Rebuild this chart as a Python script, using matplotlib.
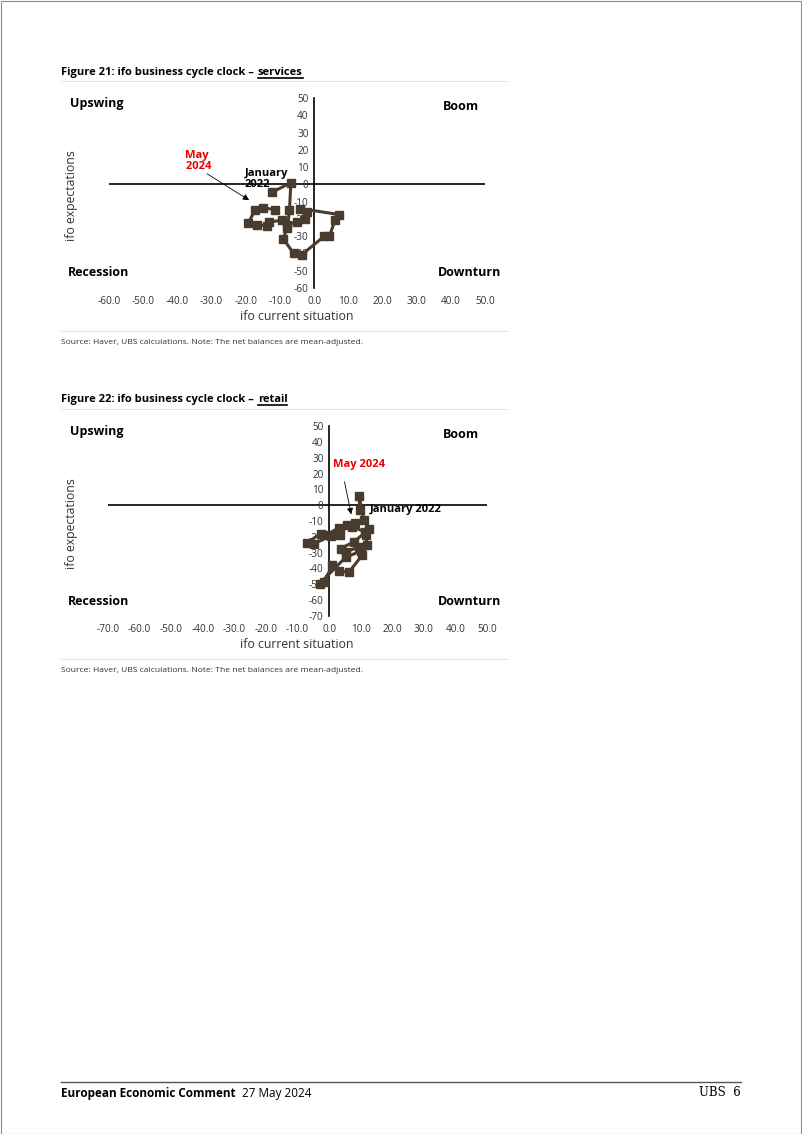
import matplotlib
matplotlib.use('Agg')
import matplotlib.pyplot as plt
from matplotlib.lines import Line2D
from matplotlib.patches import Rectangle

W, H = 802, 1134
BROWN = '#4a3b2f'
RED = '#e60000'
GREY = '#333333'
RULE = '#e3e3e3'

# ifo services: current situation (x) vs expectations (y), Jan 2022 -> May 2024
services_x = [-12.2, -6.8, -7.2, -7.8, -9.0, -6.0, -3.6, 3.0, 4.5, 6.1, 7.4, -4.1, -2.1,
              -2.6, -5.0, -8.0, -9.5, -13.1, -13.8, -16.8, -19.2, -17.3, -15.0, -11.4]
services_y = [-4.5, 1.0, -15.0, -25.0, -31.5, -40.0, -40.7, -30.0, -30.0, -20.8, -17.5, -14.0, -16.0,
              -19.9, -21.5, -23.7, -20.8, -21.8, -24.1, -23.4, -22.2, -15.0, -13.5, -14.7]

# ifo retail
retail_x = [9.7, 9.5, 11.0, 12.6, 11.6, 12.1, 10.5, 6.3, 3.1, 1.0, -1.6, -3.0, 5.2, 10.0, 9.5,
            5.2, 3.7, 8.0, 11.5, 7.4, 3.1, -1.1, -2.7, -6.9, -4.8, 0.5, 3.5, 5.8, 8.1]
retail_y = [-3.2, 5.9, -9.5, -14.8, -19.0, -25.3, -31.6, -42.2, -41.8, -38.0, -48.5, -49.6, -33.0, -29.0, -26.4,
            -29.5, -27.4, -23.0, -17.0, -13.7, -14.3, -19.0, -18.0, -23.6, -24.3, -19.5, -19.0, -12.7, -11.0]

services_xticks = [-60, -50, -40, -30, -20, -10, 0, 10, 20, 30, 40, 50]
services_yticks = [50, 40, 30, 20, 10, 0, -10, -20, -30, -40, -50, -60]
retail_xticks = [-70, -60, -50, -40, -30, -20, -10, 0, 10, 20, 30, 40, 50]
retail_yticks = [50, 40, 30, 20, 10, 0, -10, -20, -30, -40, -50, -60, -70]

plt.rcParams['font.family'] = ['Open Sans', 'DejaVu Sans']

fig = plt.figure(figsize=(W / 100, H / 100), dpi=100)
renderer = fig.canvas.get_renderer()


def fx(px):
    return px / W


def fy(py):
    return 1 - py / H


def hline(y, x0, x1, color, lw):
    fig.add_artist(Line2D([fx(x0), fx(x1)], [fy(y), fy(y)], color=color, lw=lw))


def title(y, lead, word):
    # y is the text baseline in pixels from the top
    t = fig.text(fx(61), fy(y), lead, fontsize=8.0, fontweight='bold', va='baseline')
    bb = t.get_window_extent(renderer)
    t2 = fig.text((bb.x1 + 4) / W, fy(y), word, fontsize=8.0, fontweight='bold', va='baseline')
    bb2 = t2.get_window_extent(renderer)
    fig.add_artist(Line2D([bb2.x0 / W, bb2.x1 / W], [fy(y + 3)] * 2, color='black', lw=1.2))


def panel(top, bottom, left, right, xs, ys, xticks, yticks):
    ax = fig.add_axes([fx(left), fy(bottom), fx(right) - fx(left), fy(top) - fy(bottom)])
    ax.patch.set_alpha(0)
    ax.set_xlim(xticks[0], xticks[-1])
    ax.set_ylim(yticks[-1], yticks[0])
    ax.axhline(0, color='black', lw=1.2, zorder=1)
    ax.plot(xs, ys, color=BROWN, lw=2.2, marker='s', ms=5.8, mfc=BROWN, mec=BROWN, zorder=3)
    ax.spines['left'].set_position(('data', 0))
    ax.spines['left'].set_linewidth(1.2)
    for s in ['top', 'right', 'bottom']:
        ax.spines[s].set_visible(False)
    ax.set_xticks(xticks)
    ax.set_xticklabels([f'{v:.1f}' for v in xticks])
    ax.set_yticks(yticks)
    ax.set_yticklabels([str(v) for v in yticks])
    ax.tick_params(axis='both', length=0, labelsize=7.2, labelcolor=GREY)
    ax.tick_params(axis='x', pad=6)
    ax.tick_params(axis='y', pad=4)
    return ax


def quadrants(y_top, y_bot):
    kw = dict(fontsize=9, fontweight='bold', va='center')
    fig.text(fx(70), fy(y_top), 'Upswing', ha='left', **kw)
    fig.text(fx(479), fy(y_top + 3), 'Boom', ha='right', **kw)
    fig.text(fx(68), fy(y_bot), 'Recession', ha='left', **kw)
    fig.text(fx(501), fy(y_bot), 'Downturn', ha='right', **kw)


def axis_labels(ymid, xlab_y):
    fig.text(fx(71), fy(ymid), 'ifo expectations', rotation=90, ha='center', va='center',
             fontsize=8.8, color=GREY)
    fig.text(fx(297), fy(xlab_y), 'ifo current situation', ha='center', va='center',
             fontsize=8.8, color=GREY)


def source(y):
    fig.text(fx(61), fy(y), 'Source: Haver, UBS calculations. Note: The net balances are mean-adjusted.',
             fontsize=6.1, color=GREY, va='center')


# page frame
fig.add_artist(Rectangle((0.5 / W, 0.5 / H), 1 - 1.5 / W, 1 - 1.5 / H, fill=False,
                         edgecolor='#8c8c8c', lw=0.8))

# ---- Figure 21: services
title(75, 'Figure 21: ifo business cycle clock \u2013', 'services')
hline(81, 61, 507, RULE, 0.8)
ax1 = panel(98, 288, 109, 485, services_x, services_y, services_xticks, services_yticks)
quadrants(104, 273)
axis_labels(196, 316)
fig.text(fx(197), fy(161), 'May\n 2024', color=RED, fontsize=8, fontweight='bold',
         ha='center', va='center', linespacing=1.1)
fig.text(fx(245), fy(179), 'January\n2022', color='black', fontsize=8, fontweight='bold',
         ha='left', va='center', linespacing=1.1)
ax1.annotate('', xy=(-18.3, -10.0), xytext=(-32.0, 7.0),
             arrowprops=dict(arrowstyle='-|>', color='black', lw=0.6, mutation_scale=9))
hline(331, 61, 507, RULE, 0.8)
source(342)

# ---- Figure 22: retail
title(402, 'Figure 22: ifo business cycle clock \u2013', 'retail')
hline(409, 61, 507, RULE, 0.8)
ax2 = panel(426, 616, 108, 487, retail_x, retail_y, retail_xticks, retail_yticks)
quadrants(432, 601)
axis_labels(524, 644)
fig.text(fx(333), fy(465), 'May 2024', color=RED, fontsize=8, fontweight='bold',
         ha='left', va='center')
fig.text(fx(370), fy(509), 'January 2022', color='black', fontsize=8, fontweight='bold',
         ha='left', va='center')
ax2.annotate('', xy=(7.2, -7.5), xytext=(4.7, 16.5),
             arrowprops=dict(arrowstyle='-|>', color='black', lw=0.6, mutation_scale=9))
hline(659, 61, 507, RULE, 0.8)
source(670)

# ---- footer
hline(1082, 61, 741, '#555555', 1.0)
t = fig.text(fx(61), fy(1093), 'European Economic Comment', fontsize=8.5, fontweight='bold', va='center')
bb = t.get_window_extent(renderer)
fig.text((bb.x1 + 6) / W, fy(1093), '27 May 2024', fontsize=8.5, va='center')
fig.text(fx(741), fy(1093), 'UBS  6', fontsize=8.5, va='center', ha='right', family='DejaVu Serif')

fig.savefig('out.png', dpi=100)
